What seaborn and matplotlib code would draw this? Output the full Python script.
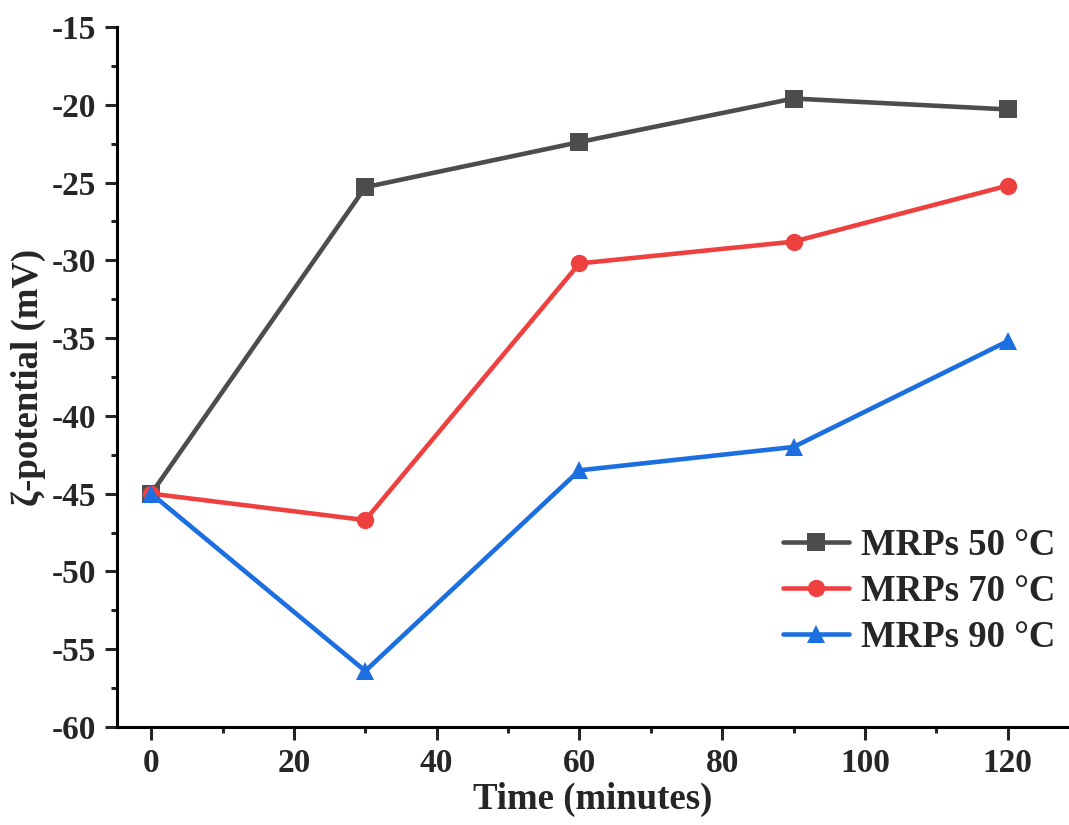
import matplotlib
matplotlib.use("Agg")
import matplotlib.pyplot as plt
from matplotlib.ticker import MultipleLocator
import seaborn as sns
import pandas as pd

# Sampling times and zeta potential readings
time_min = [0, 30, 60, 90, 120]
mrps_50 = [-45.0, -25.3, -22.4, -19.6, -20.3]
mrps_70 = [-45.0, -46.7, -30.2, -28.8, -25.2]
mrps_90 = [-45.0, -56.4, -43.5, -42.0, -35.2]
series_labels = ["MRPs 50 °C", "MRPs 70 °C", "MRPs 90 °C"]

rows = []
for label, vals in zip(series_labels, [mrps_50, mrps_70, mrps_90]):
    for t, v in zip(time_min, vals):
        rows.append({"Time": t, "Zeta": v, "Sample": label})
df = pd.DataFrame(rows)

sns.set_theme(style="ticks")
plt.rcParams["font.family"] = ["Liberation Serif", "DejaVu Serif"]
plt.rcParams["font.weight"] = "bold"
plt.rcParams["axes.unicode_minus"] = False

fig = plt.figure(figsize=(10.69, 8.25), dpi=100)
ax = fig.add_axes([0.1094, 0.1188, 0.8906, 0.8485])

palette = {series_labels[0]: "#4d4d4d", series_labels[1]: "#ef4040", series_labels[2]: "#1c6fe0"}
markers = {series_labels[0]: "s", series_labels[1]: "o", series_labels[2]: "^"}

sns.lineplot(data=df, x="Time", y="Zeta", hue="Sample", style="Sample",
             palette=palette, markers=markers, dashes=False,
             linewidth=3.3, markersize=12.5, markeredgewidth=0, ax=ax)

ax.set_xlim(-4.8, 128.6)
ax.set_ylim(-60, -15)
ax.xaxis.set_major_locator(MultipleLocator(20))
ax.xaxis.set_minor_locator(MultipleLocator(10))
ax.yaxis.set_major_locator(MultipleLocator(5))
ax.yaxis.set_minor_locator(MultipleLocator(2.5))

for side in ["top", "right"]:
    ax.spines[side].set_visible(False)
for side in ["left", "bottom"]:
    ax.spines[side].set_linewidth(2.2)
    ax.spines[side].set_color("black")

ax.tick_params(which="major", direction="out", length=9, width=2.2, labelsize=24, pad=6)
ax.tick_params(which="minor", direction="out", length=4.5, width=2.2)
for lbl in ax.get_xticklabels() + ax.get_yticklabels():
    lbl.set_fontweight("bold")

ax.set_xlabel("Time (minutes)", fontsize=26.5, fontweight="bold", labelpad=2)
ax.set_ylabel("ζ-potential (mV)", fontsize=26.5, fontweight="bold", labelpad=4)

leg = ax.legend(loc="lower right", bbox_to_anchor=(1.02, 0.055), frameon=False,
                prop={"family": "Liberation Serif", "weight": "bold", "size": 26.5},
                handlelength=1.8, handletextpad=0.3, labelspacing=0.3)

fig.savefig("out.png", dpi=100)
